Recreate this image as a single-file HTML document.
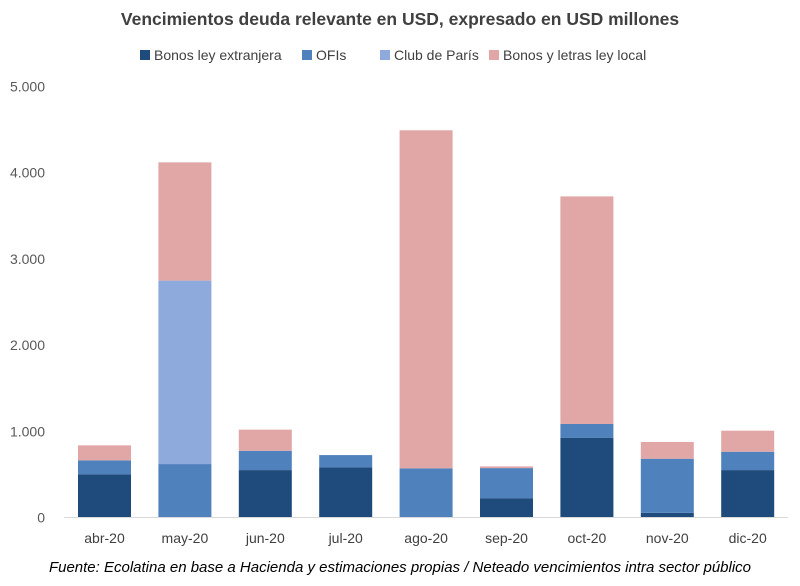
<!DOCTYPE html>
<html><head><meta charset="utf-8"><style>
body{margin:0;background:#fff;font-family:"Liberation Sans",sans-serif}
</style></head><body>
<svg width="800" height="581" xmlns="http://www.w3.org/2000/svg" font-family="Liberation Sans, sans-serif">
<rect width="800" height="581" fill="#fff"/>
<text x="400" y="25" text-anchor="middle" font-size="17.5" font-weight="bold" fill="#404040">Vencimientos deuda relevante en USD, expresado en USD millones</text>
<g id="legend"></g>
<g id="yaxis"></g>
<g id="bars"></g>
<g id="xaxis"></g>
<text x="400" y="572" text-anchor="middle" font-size="15" font-style="italic" fill="#000">Fuente: Ecolatina en base a Hacienda y estimaciones propias / Neteado vencimientos intra sector público</text>
</svg>
<script>
const categories=["abr-20","may-20","jun-20","jul-20","ago-20","sep-20","oct-20","nov-20","dic-20"];
const seriesNames=["Bonos ley extranjera","OFIs","Club de París","Bonos y letras ley local"];
const bonosExt=[500,0,550,581,0,224,926,54,550];
const ofis=[163,620,224,143,570,349,159,628,213];
const clubParis=[0,2128,0,0,0,0,0,0,0];
const bonosLocal=[174,1372,245,0,3922,20,2640,194,244];
const yTicks=[0,1000,2000,3000,4000,5000];
const yTickLabels=["0","1.000","2.000","3.000","4.000","5.000"];
const colors=["#1F4A7C","#4F81BD","#8EA9DB","#E0A7A6"];
const NS="http://www.w3.org/2000/svg";
const y0=517.5,pxPer=0.0862,x0=64.3,step=80.4,bw=53;
const ys=v=>y0-v*pxPer;
const xc=i=>x0+step*(i+0.5);
function mk(t,a,p){const e=document.createElementNS(NS,t);for(const k in a)e.setAttribute(k,a[k]);p.appendChild(e);return e;}
const yg=document.getElementById('yaxis');
yTicks.forEach((v,i)=>{const t=mk('text',{x:45,y:ys(v)+5,'text-anchor':'end','font-size':'14',fill:'#595959'},yg);t.textContent=yTickLabels[i];

});
const xg=document.getElementById('xaxis');
const base=mk('line',{x1:x0,x2:x0+step*9,y1:y0,y2:y0,stroke:'#d9d9d9','stroke-width':1},xg);


categories.forEach((c,i)=>{const t=mk('text',{x:xc(i),y:543,'text-anchor':'middle','font-size':'14',fill:'#404040'},xg);t.textContent=c;

});
const series=[bonosExt,ofis,clubParis,bonosLocal];
const bg=document.getElementById('bars');
categories.forEach((c,i)=>{let cum=0;series.forEach((s,k)=>{const v=s[i];if(v>0){const r=mk('rect',{x:xc(i)-bw/2,y:ys(cum+v),width:bw,height:v*pxPer,fill:colors[k]},bg);

}cum+=v;});});
const lg=document.getElementById('legend');
const lx=[140,302,380,489];
seriesNames.forEach((n,k)=>{const r=mk('rect',{x:lx[k],y:50,width:10,height:10,fill:colors[k]},lg);


const t=mk('text',{x:lx[k]+14,y:60,'font-size':'14',fill:'#404040'},lg);t.textContent=n;

});
</script>
</body></html>
